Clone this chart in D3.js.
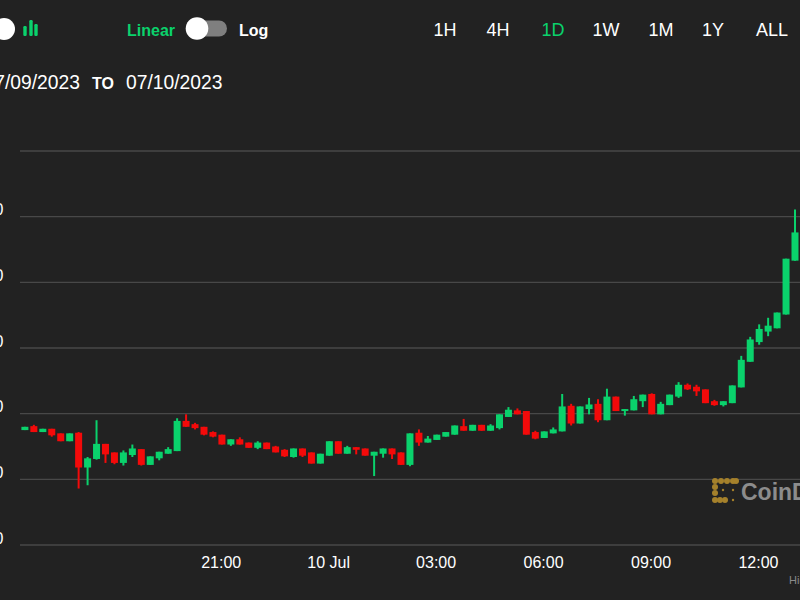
<!DOCTYPE html>
<html>
<head>
<meta charset="utf-8">
<script src="https://cdnjs.cloudflare.com/ajax/libs/d3/7.8.5/d3.min.js"></script>
<style>
html,body{margin:0;padding:0;background:#222;overflow:hidden}
svg{display:block}
text{font-family:"Liberation Sans",Arial,sans-serif}
</style>
</head>
<body>
<svg id="c" width="800" height="600"></svg>
<script>
const opens = [175,181,172,177,170,158,171,118,131,154,141,125,137,146,122,132,139,143,189,184,180,172,168,153,161,156,148,156,150,145,134,147,141,124,136,158,139,149,147,136,139,147,141,122,171,156,160,165,168,181,174,183,174,178,195,205,204,172,163,170,173,212,185,207,215,190,226,204,205,219,230,199,213,226,244,241,237,219,213,216,240,279,309,325,330,351,433];
const closes = [180,172,177,167,158,170,118,132,154,138,125,141,147,122,135,142,146,189,180,178,168,165,153,161,153,148,156,146,141,135,147,136,124,139,158,139,149,145,136,142,147,138,122,170,156,162,168,172,182,174,183,174,182,199,206,199,168,162,173,176,211,185,211,214,190,226,204,207,222,229,199,215,229,244,237,234,216,213,219,243,282,313,329,334,354,436,476];
const highs = [180,183,177,177,170,170,172,134,190,154,141,144,153,146,135,142,149,193,199,186,180,173,168,161,164,156,158,156,151,146,147,147,141,139,158,158,151,149,147,142,147,147,141,170,176,166,168,172,182,192,183,183,184,199,210,208,204,174,173,179,230,215,211,224,222,238,226,207,227,229,231,218,229,248,246,244,237,221,219,243,288,317,336,346,354,436,511];
const lows = [175,172,172,165,158,158,86,91,130,125,123,121,134,121,122,129,139,143,180,176,167,164,153,151,153,148,146,146,141,134,133,134,124,124,136,139,139,138,136,105,133,131,122,120,151,156,160,165,168,174,174,174,174,176,195,199,168,161,163,170,173,182,185,199,187,190,204,197,205,210,199,199,213,224,236,227,216,212,211,216,240,279,305,318,330,351,433];
const gridValues = [0,100,200,300,400,500,600];
const yLabels = ["30,000","30,100","30,200","30,300","30,400","30,500",""];
const xTickTimes = ["2023-07-09T21:00Z","2023-07-10T00:00Z","2023-07-10T03:00Z","2023-07-10T06:00Z","2023-07-10T09:00Z","2023-07-10T12:00Z"];
const xTickLabels = ["21:00","10 Jul","03:00","06:00","09:00","12:00"];
const startTime = "2023-07-09T15:30Z";
const ranges = ["1H","4H","1D","1W","1M","1Y","ALL"];
const rangeCentres = [445,498,553,606,661,713,772];
const iconBars = [[25,10],[31,16],[36,12]];
const logoBeads = [[715,481],[721,481],[727,481],[733,481],[736,481],[715,487],[715,493],[715,500],[720,500],[725,500]];
const logoDots = [[723,490],[733,490],[733,500]];

const GREEN="#0ad26c", RED="#f40a0a", GRID="#484848";
const svg = d3.select("#c");
svg.append("rect").attr("width",800).attr("height",600).attr("fill","#222");

const t0 = new Date(startTime).getTime(), step = 15*60000;
const candles = opens.map((o,i)=>({t:new Date(t0+i*step),o,c:closes[i],h:highs[i],l:lows[i]}));

const x = d3.scaleUtc().domain([new Date(t0), new Date(t0+86*step)]).range([24.9,795]);
const y = d3.scaleLinear().domain([0,600]).range([545,151]);

// grid + y labels
const yAxis = d3.axisLeft(y).tickValues(gridValues).tickSize(0).tickFormat((d,i)=>yLabels[i]);
const gy = svg.append("g").attr("transform","translate(3.5,0)").call(yAxis);
gy.select(".domain").remove();
gy.selectAll("text").attr("x",0).attr("dy",-2).attr("fill","#fff").attr("text-anchor","end").style("font-size","16px").style("font-family",'"Liberation Sans",Arial,sans-serif');
svg.append("g").selectAll("line").data(gridValues).join("line")
  .attr("x1",20).attr("x2",800).attr("y1",d=>y(d)).attr("y2",d=>y(d))
  .attr("stroke",GRID).attr("stroke-width",1.3);

// x axis
const xAxis = d3.axisBottom(x).tickValues(xTickTimes.map(d=>new Date(d))).tickSize(0).tickFormat((d,i)=>xTickLabels[i]);
const gx = svg.append("g").attr("transform","translate(-1.2,553)").call(xAxis);
gx.select(".domain").remove();
gx.selectAll("text").attr("y",0).attr("dy","0.93em").attr("fill","#fff").style("font-size","16px").style("font-family",'"Liberation Sans",Arial,sans-serif');

// candles
const g = svg.append("g").selectAll("g").data(candles).join("g");
g.append("line").attr("x1",d=>x(d.t)).attr("x2",d=>x(d.t)).attr("y1",d=>y(d.h)).attr("y2",d=>y(d.l))
  .attr("stroke",d=>d.c>=d.o?GREEN:RED).attr("stroke-width",2);
g.append("rect").attr("x",d=>x(d.t)-3.5).attr("width",7)
  .attr("y",d=>y(Math.max(d.o,d.c))).attr("height",d=>Math.abs(y(d.o)-y(d.c)))
  .attr("fill",d=>d.c>=d.o?GREEN:RED);

// logo
const gold="#a5812b";
svg.append("g").selectAll("circle").data(logoBeads).join("circle")
  .attr("cx",d=>d[0]).attr("cy",d=>d[1]).attr("r",3).attr("fill",gold);
svg.append("g").selectAll("circle").data(logoDots).join("circle")
  .attr("cx",d=>d[0]).attr("cy",d=>d[1]).attr("r",1.2).attr("fill",gold);
svg.append("text").attr("x",741).attr("y",500).attr("fill","#8c8c8c").attr("font-weight","700").attr("font-size",23).text("CoinDesk");
svg.append("text").attr("x",789).attr("y",584).attr("fill","#8a8a8a").attr("font-size",11).text("Highcharts.com");

// top controls
svg.append("circle").attr("cx",4).attr("cy",29).attr("r",11).attr("fill","#fff");
svg.append("g").selectAll("rect").data(iconBars).join("rect")
  .attr("x",d=>d[0]-1.7).attr("width",3.4).attr("y",d=>36-d[1]).attr("height",d=>d[1]).attr("rx",1.2).attr("fill",GREEN);
svg.append("text").attr("x",127).attr("y",35.5).attr("fill",GREEN).attr("font-weight","700").attr("font-size",16).text("Linear");
svg.append("rect").attr("x",197).attr("y",20.5).attr("width",30).attr("height",16).attr("rx",8).attr("fill","#7f7f7f");
svg.append("circle").attr("cx",197).attr("cy",28.5).attr("r",11.3).attr("fill","#fff");
svg.append("text").attr("x",239).attr("y",35.5).attr("fill","#fff").attr("font-weight","700").attr("font-size",16).text("Log");
svg.append("g").selectAll("text").data(ranges).join("text")
  .attr("x",(d,i)=>rangeCentres[i]).attr("y",36).attr("text-anchor","middle")
  .attr("fill",d=>d==="1D"?GREEN:"#fff").attr("font-size",18).text(d=>d);
svg.append("text").attr("x",80).attr("y",89).attr("text-anchor","end").attr("fill","#fff").attr("font-size",19.3).text("07/09/2023");
svg.append("text").attr("x",92).attr("y",89).attr("fill","#fff").attr("font-weight","700").attr("font-size",16).text("TO");
svg.append("text").attr("x",126).attr("y",89).attr("fill","#fff").attr("font-size",19.3).text("07/10/2023");
</script>
</body>
</html>
